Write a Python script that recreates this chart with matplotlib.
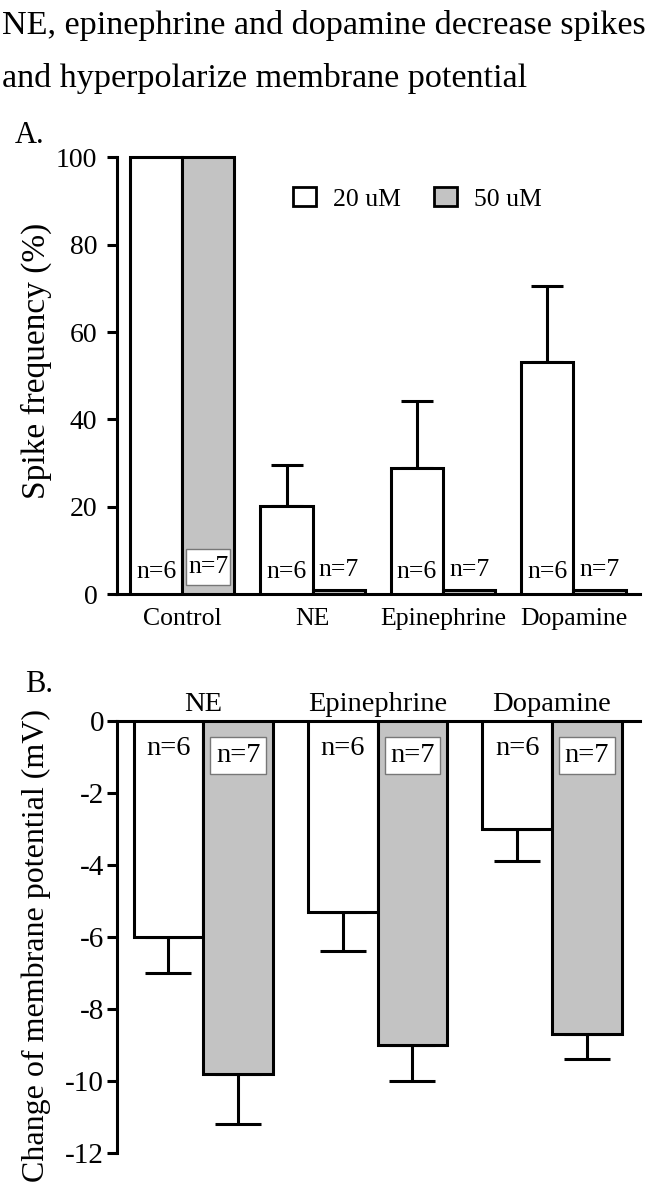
import matplotlib.pyplot as plt
import numpy as np
from matplotlib.patches import Patch
from matplotlib.path import Path

plt.rcParams["font.family"] = ["Liberation Serif", "DejaVu Serif"]

# Panel A: spike frequency (% of control)
spike_groups = ["Control", "NE", "Epinephrine", "Dopamine"]
spike_20um = [100, 20.2, 28.9, 53.2]
spike_20um_err = [0, 9.4, 15.3, 17.4]
spike_50um = [100, 1.0, 1.0, 1.0]
spike_n_20um = ["n=6", "n=6", "n=6", "n=6"]
spike_n_50um = ["n=7", "n=7", "n=7", "n=7"]

# Panel B: change of membrane potential (mV)
vm_groups = ["NE", "Epinephrine", "Dopamine"]
vm_20um = [-6.0, -5.3, -3.0]
vm_20um_err = [1.0, 1.1, 0.9]
vm_50um = [-9.8, -9.0, -8.7]
vm_50um_err = [1.4, 1.0, 0.7]
vm_n_20um = ["n=6", "n=6", "n=6"]
vm_n_50um = ["n=7", "n=7", "n=7"]

yticks_a = [0, 20, 40, 60, 80, 100]
yticks_b = [0, -2, -4, -6, -8, -10, -12]

GRAY = "#c3c3c3"
BAR_WIDTH = 0.4
FIG_W, FIG_H = 660, 1199


def make_box(pad_x, pad_y):
    """Rectangular label box with separate horizontal/vertical padding."""
    def box(x0, y0, width, height, mutation_size):
        px = pad_x * mutation_size
        py = pad_y * mutation_size
        x0, y0 = x0 - px, y0 - py
        x1, y1 = x0 + width + 2 * px, y0 + height + 2 * py
        return Path(
            [(x0, y0), (x1, y0), (x1, y1), (x0, y1), (x0, y0)],
            closed=True,
        )
    return box


def style_axis(axis):
    for side in ["top", "right", "bottom", "left"]:
        axis.spines[side].set_linewidth(2.2)


def plot_spike_panel(figure):
    axis = figure.add_axes(
        [117 / FIG_W, 1 - 594 / FIG_H, 523 / FIG_W, 441 / FIG_H]
    )
    x = np.arange(len(spike_groups))

    axis.bar(
        x - BAR_WIDTH / 2, spike_20um, BAR_WIDTH,
        color="white", edgecolor="black", linewidth=2.2, zorder=3,
    )
    axis.bar(
        x + BAR_WIDTH / 2, spike_50um, BAR_WIDTH,
        color=GRAY, edgecolor="black", linewidth=2.2, zorder=3,
    )

    err = np.array(spike_20um_err)
    keep = err > 0
    axis.errorbar(
        (x - BAR_WIDTH / 2)[keep], np.array(spike_20um)[keep],
        yerr=[np.zeros(keep.sum()), err[keep]],
        fmt="none", ecolor="black", elinewidth=2.2,
        capsize=11.5, capthick=2.2, zorder=2,
    )

    for i in range(len(spike_groups)):
        axis.text(
            x[i] - BAR_WIDTH / 2, 3.7, spike_n_20um[i],
            ha="center", va="baseline", fontsize=18.5, zorder=5,
        )
        if spike_50um[i] > 50:
            axis.text(
                x[i] + BAR_WIDTH / 2, 4.8, spike_n_50um[i],
                ha="center", va="baseline", fontsize=18.5, zorder=5,
                bbox=dict(boxstyle=make_box(0.08, 0.28), fc="white",
                          ec="#777777", lw=1),
            )
        else:
            axis.text(
                x[i] + BAR_WIDTH / 2, 4.1, spike_n_50um[i],
                ha="center", va="baseline", fontsize=18.5, zorder=5,
            )

    axis.set_xlim(-0.5, 3.51)
    axis.set_ylim(0, 101)
    axis.spines["left"].set_bounds(0, 100)
    axis.spines["top"].set_visible(False)
    axis.spines["right"].set_visible(False)
    style_axis(axis)

    axis.set_yticks(yticks_a)
    axis.set_xticks(x)
    axis.set_xticklabels(spike_groups, fontsize=18.5)
    axis.tick_params(axis="x", length=0, pad=10)
    axis.tick_params(axis="y", length=7.2, width=2.2, pad=7,
                     labelsize=20, direction="out")

    axis.text(
        -0.155, 0.528, "Spike frequency (%)", rotation=90,
        ha="center", va="center", fontsize=24,
        transform=axis.transAxes,
    )

    handles = [
        Patch(facecolor="white", edgecolor="black", linewidth=2),
        Patch(facecolor=GRAY, edgecolor="black", linewidth=2),
    ]
    axis.legend(
        handles, ["20 uM", "50 uM"], ncol=2, frameon=False,
        loc="center left", bbox_to_anchor=(0.3365, 0.896),
        fontsize=18.5, handlelength=0.89, handleheight=0.77,
        handletextpad=0.66, columnspacing=1.3,
        borderpad=0, borderaxespad=0,
    )
    return axis


def plot_membrane_panel(figure):
    axis = figure.add_axes(
        [117 / FIG_W, 1 - 1153 / FIG_H, 523 / FIG_W, 432 / FIG_H]
    )
    x = np.arange(len(vm_groups))

    axis.bar(
        x - BAR_WIDTH / 2, vm_20um, BAR_WIDTH,
        color="white", edgecolor="black", linewidth=2.2, zorder=3,
    )
    axis.bar(
        x + BAR_WIDTH / 2, vm_50um, BAR_WIDTH,
        color=GRAY, edgecolor="black", linewidth=2.2, zorder=3,
    )

    zeros = np.zeros(len(vm_groups))
    axis.errorbar(
        x - BAR_WIDTH / 2, vm_20um, yerr=[vm_20um_err, zeros],
        fmt="none", ecolor="black", elinewidth=2.2,
        capsize=16.5, capthick=2.2, zorder=2,
    )
    axis.errorbar(
        x + BAR_WIDTH / 2, vm_50um, yerr=[vm_50um_err, zeros],
        fmt="none", ecolor="black", elinewidth=2.2,
        capsize=16.5, capthick=2.2, zorder=2,
    )

    for i in range(len(vm_groups)):
        axis.text(
            x[i] - BAR_WIDTH / 2, -0.94, vm_n_20um[i],
            ha="center", va="baseline", fontsize=20.5, zorder=5,
        )
        axis.text(
            x[i] + BAR_WIDTH / 2, -1.14, vm_n_50um[i],
            ha="center", va="baseline", fontsize=20.5, zorder=5,
            bbox=dict(boxstyle=make_box(0.2, 0.22), fc="white",
                      ec="#777777", lw=1),
        )

    axis.set_xlim(-0.495, 2.505)
    axis.set_ylim(-12, 0)
    axis.spines["bottom"].set_visible(False)
    axis.spines["right"].set_visible(False)
    style_axis(axis)

    axis.set_yticks(yticks_b)
    axis.set_yticklabels([str(t) for t in yticks_b])
    axis.xaxis.tick_top()
    axis.set_xticks(x)
    axis.set_xticklabels(vm_groups, fontsize=20.5)
    axis.tick_params(axis="x", length=0, pad=3)
    axis.tick_params(axis="y", length=7.2, width=2.2, pad=2,
                     labelsize=21, direction="out")

    axis.text(
        -0.155, 0.481, "Change of membrane potential (mV)",
        rotation=90, ha="center", va="center", fontsize=23,
        transform=axis.transAxes,
    )
    return axis


figure = plt.figure(figsize=(6.6, 11.99), dpi=100)

figure.text(
    0.003, 1 - 34 / FIG_H,
    "NE, epinephrine and dopamine decrease spikes",
    ha="left", va="baseline", fontsize=24.6,
)
figure.text(
    0.003, 1 - 87 / FIG_H,
    "and hyperpolarize membrane potential",
    ha="left", va="baseline", fontsize=24.6,
)
figure.text(15 / FIG_W, 1 - 143 / FIG_H, "A.", fontsize=22,
            va="baseline")
figure.text(25 / FIG_W, 1 - 692 / FIG_H, "B.", fontsize=22,
            va="baseline")

plot_spike_panel(figure)
plot_membrane_panel(figure)

figure.savefig("out.png", dpi=100)
plt.close(figure)
